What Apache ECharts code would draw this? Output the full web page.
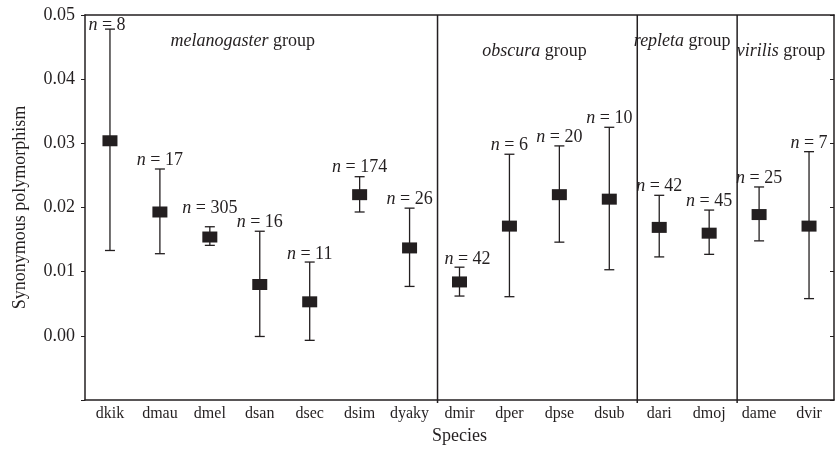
<!DOCTYPE html>
<html>
<head>
<meta charset="utf-8">
<script src="https://cdn.jsdelivr.net/npm/echarts@6/dist/echarts.min.js"></script>
<style>
html,body{margin:0;padding:0;background:#fff;}
#chart{width:835px;height:450px;}
</style>
</head>
<body>
<div id="chart"></div>
<script>
// ---- data ----
const categories = ['dkik','dmau','dmel','dsan','dsec','dsim','dyaky','dmir','dper','dpse','dsub','dari','dmoj','dame','dvir'];
const means  = [0.0304,0.0193,0.0154,0.0080,0.0053,0.0220,0.0137,0.0084,0.0171,0.0220,0.0213,0.0169,0.0160,0.0189,0.0171];
const upper  = [0.0478,0.0260,0.0170,0.0163,0.0115,0.0248,0.0199,0.0107,0.0283,0.0296,0.0325,0.0219,0.0196,0.0232,0.0287];
const lower  = [0.0133,0.0128,0.0141,-0.0001,-0.0007,0.0193,0.0077,0.0062,0.0061,0.0146,0.0103,0.0123,0.0127,0.0148,0.0058];
const sampleSizes = [8,17,305,16,11,174,26,42,6,20,10,42,45,25,7];
const groupNames = ['melanogaster','obscura','repleta','virilis'];
const groupFirst = [0,7,11,13];
const groupLast  = [6,10,12,14];
const yMin = -0.01, yMax = 0.05, yStep = 0.01;

// ---- style ----
const FONT = 'Liberation Serif';
const INK = '#231f20';
const labelNudge = {dkik:[-3,5], dmel:[0,-9], dmir:[8,1], dsec:[0,1], dvir:[0,1]};
const groupNudge = [[-17,26],[0,36],[-2,26],[-3,36]];

const chart = echarts.init(document.getElementById('chart'));

const errData = categories.map((c,i)=>[i, lower[i], upper[i], sampleSizes[i]]);
const meanData = categories.map((c,i)=>[i, means[i]]);
const sepData = groupLast.slice(0,-1).map(v=>[v+0.5]);
const groupData = groupNames.map((g,k)=>[(groupFirst[k]+groupLast[k])/2, k]);

const option = {
  animation:false,
  grid:{left:85, right:1, top:15, bottom:45},
  xAxis:[
    {type:'category', data:categories, boundaryGap:true, position:'bottom',
     axisLine:{onZero:false, lineStyle:{color:INK,width:1.5}},
     axisTick:{inside:true, alignWithLabel:true, interval:0, length:4, lineStyle:{color:INK,width:1}},
     axisLabel:{fontFamily:FONT, fontSize:16, color:INK, margin:6, interval:0},
     name:'Species', nameLocation:'middle', nameGap:27,
     nameTextStyle:{fontFamily:FONT, fontSize:18, color:INK}},
    {type:'category', data:categories, boundaryGap:true, position:'top',
     axisLine:{onZero:false, lineStyle:{color:INK,width:1.5}},
     axisTick:{inside:true, alignWithLabel:true, interval:0, length:4, lineStyle:{color:INK,width:1}},
     axisLabel:{show:false}},
    {type:'value', min:-0.5, max:categories.length-0.5, show:false,
     axisLine:{onZero:false}}
  ],
  yAxis:[
    {type:'value', min:yMin, max:yMax, interval:yStep, position:'left',
     axisLine:{show:true, onZero:false, lineStyle:{color:INK,width:1.5}},
     axisTick:{show:true, inside:false, length:4, lineStyle:{color:INK,width:1}},
     splitLine:{show:false},
     axisLabel:{fontFamily:FONT, fontSize:18, color:INK, margin:10,
       formatter:v=> v < -0.005 ? '' : v.toFixed(2)},
     name:'Synonymous polymorphism', nameLocation:'middle', nameGap:56,
     nameTextStyle:{fontFamily:FONT, fontSize:18, color:INK}},
    {type:'value', min:yMin, max:yMax, interval:yStep, position:'right',
     axisLine:{show:true, onZero:false, lineStyle:{color:INK,width:1.5}},
     axisTick:{show:true, inside:true, length:4, lineStyle:{color:INK,width:1}},
     splitLine:{show:false}, axisLabel:{show:false}}
  ],
  series:[
    {type:'custom', xAxisIndex:2, yAxisIndex:0, data:sepData, silent:true, z:1,
     renderItem:(params, api)=>{
       const x = api.value(0);
       const top = api.coord([x, yMax]);
       const bot = api.coord([x, yMin]);
       const px = top[0] + 3;
       return {type:'line', shape:{x1:px, y1:top[1], x2:px, y2:bot[1]+3},
               style:{stroke:INK, lineWidth:1.5}};
     }},
    {type:'custom', xAxisIndex:2, yAxisIndex:0, data:groupData, silent:true, z:3,
     renderItem:(params, api)=>{
       const k = api.value(1);
       const p = api.coord([api.value(0), yMax]);
       const nd = groupNudge[k];
       return {type:'text', x:p[0]+nd[0], y:p[1]+nd[1],
         style:{text:'{i|'+groupNames[k]+'}{r| group}', fill:INK,
           fontFamily:FONT, fontSize:18,
           align:'center', verticalAlign:'middle',
           rich:{i:{fontStyle:'italic', fontFamily:FONT, fontSize:18, fill:INK},
                 r:{fontFamily:FONT, fontSize:18, fill:INK}}}};
     }},
    {type:'custom', xAxisIndex:0, yAxisIndex:0, data:errData, silent:true, z:2,
     renderItem:(params, api)=>{
       const i = api.value(0);
       const hi = api.coord([i, api.value(2)]);
       const lo = api.coord([i, api.value(1)]);
       const cw = 5;
       const nd = labelNudge[categories[i]] || [0,0];
       return {type:'group', children:[
         {type:'line', shape:{x1:hi[0], y1:hi[1], x2:lo[0], y2:lo[1]}, style:{stroke:INK, lineWidth:1.3}},
         {type:'line', shape:{x1:hi[0]-cw, y1:hi[1], x2:hi[0]+cw, y2:hi[1]}, style:{stroke:INK, lineWidth:1.3}},
         {type:'line', shape:{x1:lo[0]-cw, y1:lo[1], x2:lo[0]+cw, y2:lo[1]}, style:{stroke:INK, lineWidth:1.3}},
         {type:'text', x:hi[0]+nd[0], y:hi[1]-9+nd[1],
          style:{text:'{i|n}{r| = '+api.value(3)+'}', fill:INK,
            fontFamily:FONT, fontSize:18,
            align:'center', verticalAlign:'middle',
            rich:{i:{fontStyle:'italic', fontFamily:FONT, fontSize:18, fill:INK},
                  r:{fontFamily:FONT, fontSize:18, fill:INK}}}}
       ]};
     }},
    {type:'scatter', xAxisIndex:0, yAxisIndex:0, data:meanData, symbol:'rect', symbolSize:[15,11],
     itemStyle:{color:INK, opacity:1}, z:4, silent:true}
  ]
};
chart.setOption(option);
</script>
</body>
</html>
